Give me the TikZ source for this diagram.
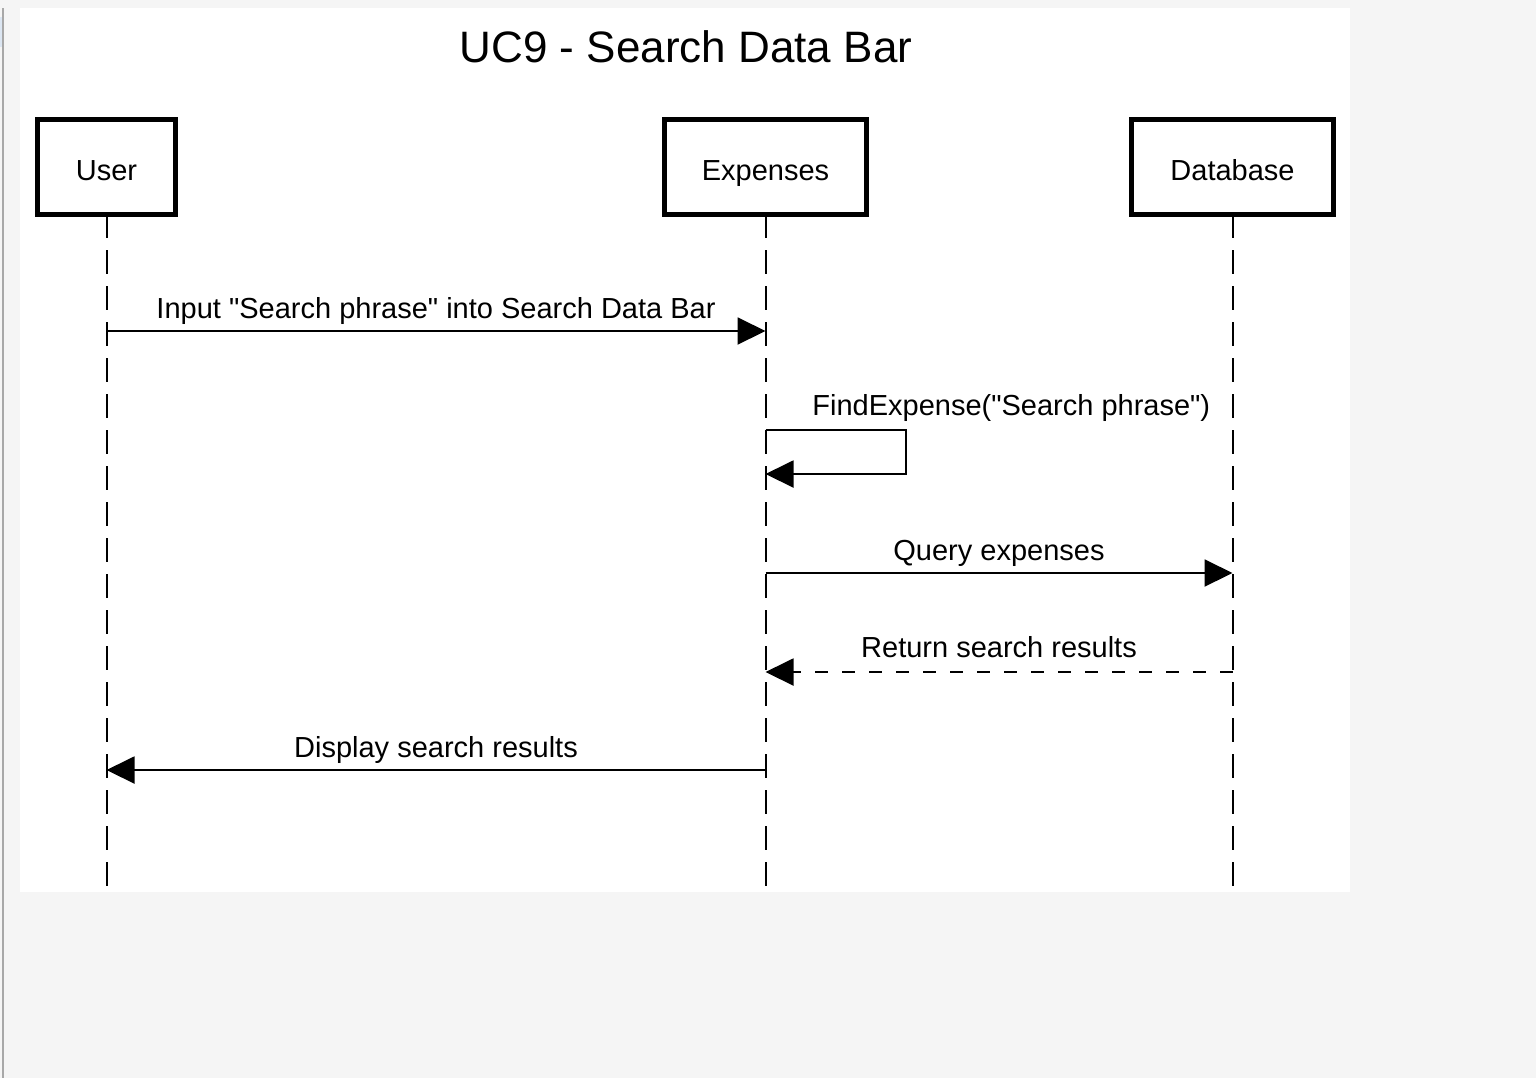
\documentclass[tikz,border=0pt]{standalone}
\usepackage{fontspec}
\setmainfont{Liberation Sans}[Ligatures=TeXOff]
\usetikzlibrary{arrows.meta}

\definecolor{pagegray}{HTML}{F5F5F5}
\definecolor{edgegray}{HTML}{A8A8A8}
\definecolor{tabblue}{HTML}{DCE6F2}

\tikzset{
  actor/.style={draw, line width=2.5pt, minimum height=47.5pt, inner sep=0pt, outer sep=0pt,
                font=\fontsize{14.5}{17}\selectfont, text height=14pt, text depth=0pt},
  lifeline/.style={line width=1pt, dash pattern=on 12pt off 6pt},
  msg/.style={line width=1pt, -{Triangle[length=14pt, width=13.5pt]}},
  reply/.style={msg, dash pattern=on 6.5pt off 7pt},
  msglabel/.style={anchor=base, inner sep=0pt, font=\fontsize{14.5}{17}\selectfont},
}

\begin{document}
\begin{tikzpicture}[x=0.5pt, y=-0.5pt]
    \useasboundingbox (0,0) rectangle (1536,1078);
    \fill[pagegray] (0,0) rectangle (1536,1078);
    \fill[tabblue] (0,17) rectangle (2,47);
    \draw[edgegray, line width=1pt] (3,8) -- (3,1078);   % window edge
    \fill[white] (20,8) rectangle (1350,892);             % diagram page

    % Title
    \node[anchor=base, inner sep=0pt, font=\fontsize{22}{26}\selectfont] (title) at (686,62) {UC9 - Search Data Bar};

    % Participants
    \node[actor, minimum width=69pt] (user) at (106.5,166.5) {User};
    \node[actor, minimum width=101pt] (expenses) at (765.5,166.5) {Expenses};
    \node[actor, minimum width=100.75pt] (database) at (1232.5,166.5) {Database};

    % Lifelines
    \coordinate (bottom) at (0,892);
    \draw[lifeline] (user.south) -- (user.south |- bottom);
    \draw[lifeline] (expenses.south) -- (expenses.south |- bottom);
    \draw[lifeline] (database.south) -- (database.south |- bottom);

    % Message end points on the lifelines
    \coordinate (inU) at (user |- 0,331);
    \coordinate (inE) at (expenses |- 0,331);
    \coordinate (findA) at (expenses |- 0,430);
    \coordinate (findB) at (expenses |- 0,474);
    \coordinate (qE) at (expenses |- 0,573);
    \coordinate (qD) at (database |- 0,573);
    \coordinate (retD) at (database |- 0,672);
    \coordinate (retE) at (expenses |- 0,672);
    \coordinate (dispE) at (expenses |- 0,770);
    \coordinate (dispU) at (user |- 0,770);

    % Messages
    \draw[msg] (inU) -- (inE);
    \node[msglabel] (inlabel) at (436,318) {Input "Search phrase" into Search Data Bar};

    \draw[msg] (findA) -- ++(140,0) -- ++(0,44) -- (findB);   % self call
    \node[msglabel, anchor=base west] (findlabel) at (812,415) {FindExpense("Search phrase")};

    \draw[msg] (qE) -- (qD);
    \node[msglabel] (qlabel) at (999,560) {Query expenses};

    \draw[reply] (retD) -- (retE);
    \node[msglabel] (retlabel) at (999,657) {Return search results};

    \draw[msg] (dispE) -- (dispU);
    \node[msglabel] (displabel) at (436,757) {Display search results};
\end{tikzpicture}
\end{document}
